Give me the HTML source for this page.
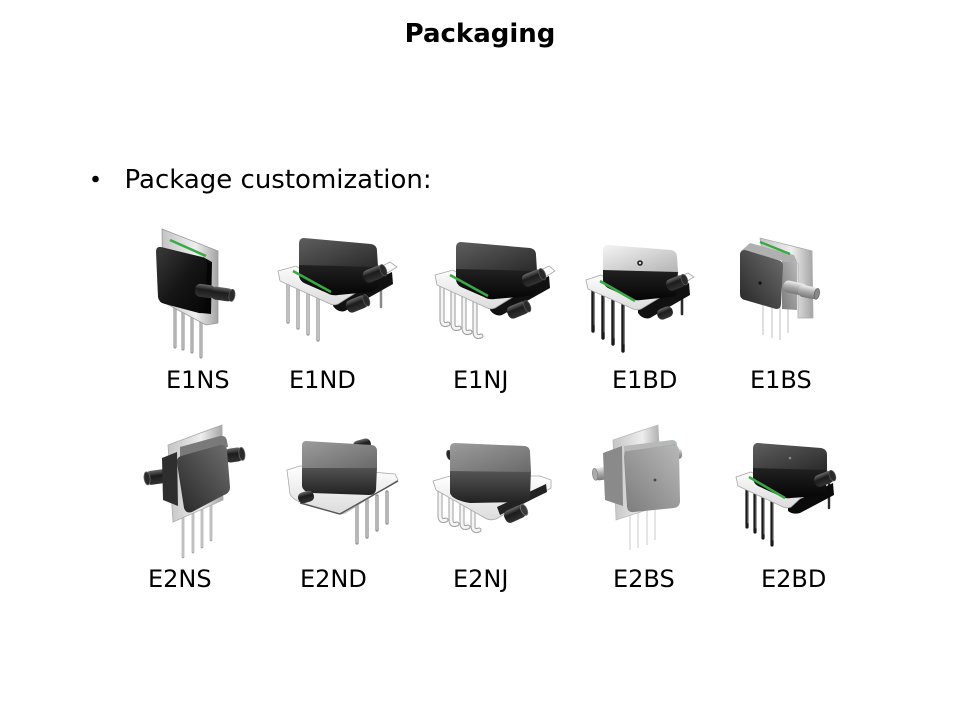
<!DOCTYPE html>
<html><head><meta charset="utf-8"><style>
html,body{margin:0;padding:0;background:#fff;}
svg{display:block;}
text{font-family:"DejaVu Sans","Liberation Sans",sans-serif;fill:#000;}
</style></head><body>
<svg width="960" height="720" viewBox="0 0 960 720" xmlns="http://www.w3.org/2000/svg">
<defs>
<linearGradient id="topDark" x1="0" y1="0" x2="1" y2="1"><stop offset="0" stop-color="#5e5e5e"/><stop offset="1" stop-color="#2a2a2a"/></linearGradient>
<linearGradient id="topLight" x1="0" y1="0" x2="1" y2="1"><stop offset="0" stop-color="#f4f4f4"/><stop offset="1" stop-color="#b4b4b4"/></linearGradient>
<linearGradient id="topGray" x1="0" y1="0" x2="1" y2="1"><stop offset="0" stop-color="#9c9c9c"/><stop offset="1" stop-color="#6a6a6a"/></linearGradient>
<linearGradient id="frontBlack" x1="0" y1="0" x2="0" y2="1"><stop offset="0" stop-color="#222"/><stop offset="1" stop-color="#050505"/></linearGradient>
<linearGradient id="frontGray" x1="0" y1="0" x2="0" y2="1"><stop offset="0" stop-color="#555"/><stop offset="1" stop-color="#222"/></linearGradient>
<linearGradient id="sideBlack" x1="0" y1="0" x2="1" y2="1"><stop offset="0" stop-color="#3a3a3a"/><stop offset="0.5" stop-color="#161616"/><stop offset="1" stop-color="#050505"/></linearGradient>
<linearGradient id="sideGray" x1="1" y1="0" x2="0" y2="1"><stop offset="0" stop-color="#6e6e6e"/><stop offset="1" stop-color="#262626"/></linearGradient>
<linearGradient id="sideLight" x1="1" y1="0" x2="0" y2="1"><stop offset="0" stop-color="#b8b8b8"/><stop offset="1" stop-color="#7c7c7c"/></linearGradient>
<linearGradient id="tube" x1="0" y1="0" x2="0" y2="1"><stop offset="0" stop-color="#6a6a6a"/><stop offset="0.4" stop-color="#1c1c1c"/><stop offset="1" stop-color="#333"/></linearGradient>
<linearGradient id="tubeLight" x1="0" y1="0" x2="0" y2="1"><stop offset="0" stop-color="#f0f0f0"/><stop offset="0.5" stop-color="#a8a8a8"/><stop offset="1" stop-color="#777"/></linearGradient>
<linearGradient id="plate" x1="0" y1="0" x2="1" y2="0"><stop offset="0" stop-color="#c4c4c4"/><stop offset="0.6" stop-color="#eeeeee"/><stop offset="1" stop-color="#a4a4a4"/></linearGradient>
<linearGradient id="board" x1="0" y1="0" x2="0" y2="1"><stop offset="0" stop-color="#ffffff"/><stop offset="1" stop-color="#dcdcdc"/></linearGradient>
</defs>

<text x="480" y="42" text-anchor="middle" font-weight="bold" font-size="26">Packaging</text>
<circle cx="95.5" cy="179" r="3.3" fill="#000"/>
<text x="124.5" y="188" font-size="26">Package customization:</text>

<!-- E1NS -->
<g>
<g stroke-linecap="round">
<line x1="175" y1="300" x2="175" y2="347" stroke="#8a8a8a" stroke-width="3"/>
<line x1="183" y1="302" x2="183" y2="349" stroke="#8a8a8a" stroke-width="3"/>
<line x1="192" y1="304" x2="192" y2="352" stroke="#8a8a8a" stroke-width="3"/>
<line x1="201" y1="306" x2="201" y2="357" stroke="#8a8a8a" stroke-width="3"/>
<line x1="175" y1="300" x2="175" y2="347" stroke="#dedede" stroke-width="1"/>
<line x1="183" y1="302" x2="183" y2="349" stroke="#dedede" stroke-width="1"/>
<line x1="192" y1="304" x2="192" y2="352" stroke="#dedede" stroke-width="1"/>
<line x1="201" y1="306" x2="201" y2="357" stroke="#dedede" stroke-width="1"/>
</g>
<polygon points="162,229 218,251 218,323 206,325 163,302" fill="url(#plate)" stroke="#999" stroke-width="0.8"/>
<line x1="170" y1="240" x2="206" y2="256" stroke="#3aa845" stroke-width="2.5"/>
<path d="M203,257 L212,262 L211,314 L201,313 Z" fill="#050505"/>
<path d="M161,247 Q156,246 156,252 L158,297 Q159,303 165,304 L199,313 Q205,314 205,308 L207,264 Q207,258 202,257 Z" fill="url(#sideBlack)"/>
<g transform="translate(205,291) rotate(8)"><rect x="-10" y="-6.5" width="20" height="13" rx="5" fill="url(#tube)"/></g>
<g transform="translate(222,294) rotate(8)"><rect x="-11" y="-6.5" width="22" height="13" rx="5" fill="url(#tube)"/><ellipse cx="10" cy="0" rx="3" ry="6" fill="#2a2a2a" stroke="#555" stroke-width="0.8"/></g>
</g>

<!-- E1ND -->
<g>
<g stroke-linecap="round">
<line x1="288" y1="280" x2="288" y2="322" stroke="#8a8a8a" stroke-width="3.2"/>
<line x1="298" y1="285" x2="298" y2="328" stroke="#8a8a8a" stroke-width="3.2"/>
<line x1="308" y1="290" x2="308" y2="334" stroke="#8a8a8a" stroke-width="3.2"/>
<line x1="318" y1="295" x2="318" y2="340" stroke="#8a8a8a" stroke-width="3.2"/>
<line x1="381" y1="272" x2="381" y2="307" stroke="#8a8a8a" stroke-width="2.5"/>
<line x1="288" y1="280" x2="288" y2="322" stroke="#e4e4e4" stroke-width="1.2"/>
<line x1="298" y1="285" x2="298" y2="328" stroke="#e4e4e4" stroke-width="1.2"/>
<line x1="308" y1="290" x2="308" y2="334" stroke="#e4e4e4" stroke-width="1.2"/>
<line x1="318" y1="295" x2="318" y2="340" stroke="#e4e4e4" stroke-width="1.2"/>
</g>
<path d="M333,300 L392,272 L393,284 L345,311 Q338,313 333,306 Z" fill="#111"/>
<path d="M278,271 L296,266 L334,291 L390,262 L397,267 L338,304 Q333,306 328,303 L280,281 Z" fill="url(#board)" stroke="#a8a8a8" stroke-width="0.8"/>
<path d="M299,264 L378,266 L377,287 Q376,292 370,292 L338,295 Q332,296 327,293 L304,283 Q299,280 299,275 Z" fill="url(#frontBlack)"/>
<path d="M304,238 L371,244 Q377,245 377,251 L378,267 L299,265 L299,244 Q299,238 304,238 Z" fill="url(#topDark)"/>
<line x1="293" y1="271" x2="331" y2="292" stroke="#3aa845" stroke-width="2.5"/>
<g transform="translate(374,274) rotate(-22)"><rect x="-11" y="-6.5" width="22" height="13" rx="5" fill="url(#tube)"/><ellipse cx="10" cy="0" rx="3" ry="6" fill="#2a2a2a" stroke="#555" stroke-width="0.8"/></g>
<g transform="translate(357,304) rotate(-22)"><rect x="-11" y="-6.5" width="22" height="13" rx="5" fill="url(#tube)"/><ellipse cx="10" cy="0" rx="3" ry="6" fill="#2a2a2a" stroke="#555" stroke-width="0.8"/></g>
</g>

<!-- E1NJ -->
<g transform="translate(157,4)">
<g fill="none" stroke-linecap="round">
<path d="M285,281 L285,316 Q285,322 291,320" stroke="#9a9a9a" stroke-width="5"/>
<path d="M296,286 L296,320 Q296,326 302,324" stroke="#9a9a9a" stroke-width="5"/>
<path d="M307,291 L307,324 Q307,330 313,328" stroke="#9a9a9a" stroke-width="5"/>
<path d="M318,296 L318,328 Q318,334 324,332" stroke="#9a9a9a" stroke-width="5"/>
<path d="M285,281 L285,316 Q285,322 291,320" stroke="#f4f4f4" stroke-width="3"/>
<path d="M296,286 L296,320 Q296,326 302,324" stroke="#f4f4f4" stroke-width="3"/>
<path d="M307,291 L307,324 Q307,330 313,328" stroke="#f4f4f4" stroke-width="3"/>
<path d="M318,296 L318,328 Q318,334 324,332" stroke="#f4f4f4" stroke-width="3"/>
</g>
<path d="M333,300 L392,272 L393,284 L345,311 Q338,313 333,306 Z" fill="#111"/>
<path d="M278,271 L296,266 L334,291 L392,262 L398,267 L338,304 Q333,306 328,303 L280,281 Z" fill="url(#board)" stroke="#a8a8a8" stroke-width="0.8"/>
<path d="M299,264 L380,266 L379,287 Q378,292 372,292 L338,295 Q332,296 327,293 L304,283 Q299,280 299,275 Z" fill="url(#frontBlack)"/>
<path d="M304,238 L373,244 Q379,245 379,251 L380,267 L299,265 L299,244 Q299,238 304,238 Z" fill="url(#topDark)"/>
<line x1="293" y1="271" x2="331" y2="292" stroke="#3aa845" stroke-width="2.5"/>
<g transform="translate(376,274) rotate(-22)"><rect x="-11" y="-6.5" width="22" height="13" rx="5" fill="url(#tube)"/><ellipse cx="10" cy="0" rx="3" ry="6" fill="#2a2a2a" stroke="#555" stroke-width="0.8"/></g>
<g transform="translate(361,306) rotate(-22)"><rect x="-11" y="-6.5" width="22" height="13" rx="5" fill="url(#tube)"/><ellipse cx="10" cy="0" rx="3" ry="6" fill="#2a2a2a" stroke="#555" stroke-width="0.8"/></g>
</g>

<!-- E1BD -->
<g transform="translate(305,7)">
<g stroke-linecap="round">
<line x1="288" y1="282" x2="288" y2="324" stroke="#1a1a1a" stroke-width="3.4"/>
<line x1="298" y1="287" x2="298" y2="331" stroke="#1a1a1a" stroke-width="3.4"/>
<line x1="308" y1="292" x2="308" y2="337" stroke="#1a1a1a" stroke-width="3.4"/>
<line x1="318" y1="297" x2="318" y2="344" stroke="#1a1a1a" stroke-width="3.4"/>
<line x1="377" y1="276" x2="377" y2="307" stroke="#2a2a2a" stroke-width="2.6"/>
<line x1="289" y1="284" x2="289" y2="318" stroke="#777" stroke-width="0.8"/>
<line x1="299" y1="289" x2="299" y2="325" stroke="#777" stroke-width="0.8"/>
<line x1="309" y1="294" x2="309" y2="331" stroke="#777" stroke-width="0.8"/>
<line x1="319" y1="299" x2="319" y2="337" stroke="#777" stroke-width="0.8"/>
</g>
<path d="M333,300 L384,276 L385,288 L345,311 Q338,313 333,306 Z" fill="#111"/>
<path d="M281,273 L296,268 L332,290 L383,266 L389,270 L336,302 Q331,304 326,301 L283,282 Z" fill="url(#board)" stroke="#a8a8a8" stroke-width="0.8"/>
<path d="M298,262 L373,264 L372,285 Q371,290 365,290 L336,293 Q330,294 325,291 L303,281 Q298,278 298,273 Z" fill="url(#frontBlack)"/>
<path d="M303,238 L366,243 Q372,244 372,250 L373,265 L298,263 L298,244 Q298,238 303,238 Z" fill="url(#topLight)"/>
<circle cx="335" cy="256" r="2.8" fill="#222"/><circle cx="335" cy="256" r="1.2" fill="#ddd"/>
<line x1="295" y1="274" x2="330" y2="294" stroke="#3aa845" stroke-width="2.5"/>
<g transform="translate(371,276) rotate(-22)"><rect x="-10" y="-6" width="20" height="12" rx="5" fill="url(#tube)"/><ellipse cx="9" cy="0" rx="3" ry="5.5" fill="#2a2a2a" stroke="#555" stroke-width="0.8"/></g>
<g transform="translate(360,306) rotate(-22)"><rect x="-8" y="-5.5" width="16" height="11" rx="5" fill="url(#tube)"/></g>
</g>

<!-- E1BS -->
<g>
<g stroke="#cfcfcf" stroke-width="1.4">
<line x1="763" y1="300" x2="763" y2="335"/>
<line x1="772" y1="303" x2="772" y2="338"/>
<line x1="780" y1="305" x2="780" y2="340"/>
<line x1="788" y1="305" x2="788" y2="333"/>
</g>
<polygon points="760,238 812,251 813,318 798,318 798,264 762,251" fill="url(#plate)" stroke="#aaa" stroke-width="0.8"/>
<path d="M750,243 L794,255 L797,262 L783,261 L741,251 Z" fill="#b0b0b0"/>
<line x1="760" y1="242" x2="790" y2="254" stroke="#3aa845" stroke-width="2.3"/>
<path d="M782,261 L797,262 L797,310 L782,309 Z" fill="url(#sideLight)"/>
<path d="M745,250 L778,260 Q783,261 783,266 L781,304 Q781,309 776,309 L745,300 Q740,299 740,294 L740,255 Q740,250 745,250 Z" fill="url(#sideGray)"/>
<circle cx="760" cy="283" r="1.6" fill="#111"/>
<g transform="translate(795,288) rotate(12)"><rect x="-12" y="-6" width="24" height="12" rx="5" fill="url(#tubeLight)"/></g>
<g transform="translate(808,292) rotate(12)"><rect x="-10" y="-6" width="20" height="12" rx="5" fill="url(#tubeLight)"/><ellipse cx="9" cy="0" rx="2.6" ry="5.5" fill="#888" stroke="#555" stroke-width="0.6"/></g>
</g>

<!-- E2NS -->
<g>
<g stroke-linecap="round">
<line x1="183" y1="505" x2="183" y2="557" stroke="#9a9a9a" stroke-width="2.6"/>
<line x1="193" y1="507" x2="193" y2="552" stroke="#9a9a9a" stroke-width="2.6"/>
<line x1="202" y1="505" x2="202" y2="547" stroke="#9a9a9a" stroke-width="2.6"/>
<line x1="211" y1="502" x2="211" y2="540" stroke="#9a9a9a" stroke-width="2.6"/>
<line x1="183" y1="505" x2="183" y2="557" stroke="#e6e6e6" stroke-width="1"/>
<line x1="193" y1="507" x2="193" y2="552" stroke="#e6e6e6" stroke-width="1"/>
<line x1="202" y1="505" x2="202" y2="547" stroke="#e6e6e6" stroke-width="1"/>
<line x1="211" y1="502" x2="211" y2="540" stroke="#e6e6e6" stroke-width="1"/>
</g>
<g transform="translate(157,477) rotate(-8)"><rect x="-11" y="-7" width="22" height="14" rx="5" fill="url(#tube)"/><ellipse cx="-10" cy="0" rx="3" ry="6.5" fill="#2a2a2a" stroke="#666" stroke-width="0.8"/></g>
<polygon points="168,445 222,425 223,500 173,522" fill="url(#plate)" stroke="#aaa" stroke-width="0.8"/>
<path d="M162,458 L177,452 L178,506 L163,500 Z" fill="#2e2e2e"/>
<g transform="translate(234,455) rotate(-8)"><rect x="-9" y="-7" width="18" height="14" rx="5" fill="url(#tube)"/><ellipse cx="8" cy="0" rx="3" ry="6.5" fill="#2a2a2a" stroke="#666" stroke-width="0.8"/></g>
<path d="M180,447 L220,436 Q226,435 227,441 L228,447 L180,458 Z" fill="#7a7a7a"/>
<path d="M181,456 L220,445 Q226,444 227,450 L230,487 Q230,493 224,495 L192,512 Q186,514 184,508 L177,463 Q176,458 181,456 Z" fill="url(#sideGray)"/>
</g>

<!-- E2ND -->
<g>
<g stroke-linecap="round">
<line x1="357" y1="503" x2="357" y2="543" stroke="#888" stroke-width="3.2"/>
<line x1="367" y1="500" x2="367" y2="537" stroke="#888" stroke-width="3.2"/>
<line x1="377" y1="496" x2="377" y2="530" stroke="#888" stroke-width="3.2"/>
<line x1="387" y1="492" x2="387" y2="523" stroke="#888" stroke-width="3.2"/>
<line x1="357" y1="503" x2="357" y2="543" stroke="#dcdcdc" stroke-width="1.1"/>
<line x1="367" y1="500" x2="367" y2="537" stroke="#dcdcdc" stroke-width="1.1"/>
<line x1="377" y1="496" x2="377" y2="530" stroke="#dcdcdc" stroke-width="1.1"/>
<line x1="387" y1="492" x2="387" y2="523" stroke="#dcdcdc" stroke-width="1.1"/>
</g>
<g transform="translate(362,445) rotate(-15)"><rect x="-9" y="-5.5" width="18" height="11" rx="5" fill="url(#tube)"/></g>
<path d="M287,470 L300,466 L395,474 L398,480 L345,513 Q340,515 335,513 L300,502 Q292,499 290,494 Z" fill="url(#board)" stroke="#a8a8a8" stroke-width="0.8"/>
<path d="M300,503 L340,514 L398,481" fill="none" stroke="#555" stroke-width="1.4"/>
<path d="M302,466 L377,467 L376,490 Q375,495 369,495 L312,493 Q303,492 302,486 Z" fill="url(#frontGray)"/>
<path d="M306,441 L372,445 Q377,446 377,451 L377,468 L302,468 L302,446 Q302,441 306,441 Z" fill="url(#topGray)"/>
<g transform="translate(306,497) rotate(-15)"><rect x="-8" y="-5.5" width="16" height="11" rx="5" fill="url(#tube)"/></g>
</g>

<!-- E2NJ -->
<g>
<g transform="translate(457,453) rotate(-15)"><rect x="-9" y="-5.5" width="18" height="11" rx="5" fill="url(#tube)"/><ellipse cx="-8" cy="0" rx="2.6" ry="5" fill="#2a2a2a" stroke="#666" stroke-width="0.6"/></g>
<g fill="none" stroke-linecap="round">
<path d="M440,486 L440,516 Q440,522 446,520" stroke="#a0a0a0" stroke-width="5"/>
<path d="M451,491 L451,520 Q451,526 457,524" stroke="#a0a0a0" stroke-width="5"/>
<path d="M462,496 L462,523 Q462,529 468,527" stroke="#a0a0a0" stroke-width="5"/>
<path d="M473,501 L473,526 Q473,532 479,530" stroke="#a0a0a0" stroke-width="5"/>
<path d="M440,486 L440,516 Q440,522 446,520" stroke="#f4f4f4" stroke-width="3"/>
<path d="M451,491 L451,520 Q451,526 457,524" stroke="#f4f4f4" stroke-width="3"/>
<path d="M462,496 L462,523 Q462,529 468,527" stroke="#f4f4f4" stroke-width="3"/>
<path d="M473,501 L473,526 Q473,532 479,530" stroke="#f4f4f4" stroke-width="3"/>
</g>
<path d="M433,481 L450,476 L540,476 L551,480 L551,488 L496,519 Q490,521 485,518 L436,490 Z" fill="url(#board)" stroke="#a8a8a8" stroke-width="0.8"/>
<path d="M497,507 L546,484 L547,492 L500,515 Z" fill="#222"/>
<path d="M450,470 L531,471 L530,497 Q529,502 523,502 L470,503 Q452,500 450,493 Z" fill="url(#frontGray)"/>
<path d="M455,443 L525,446 Q530,447 530,452 L531,472 L450,471 L450,448 Q450,443 455,443 Z" fill="url(#topGray)"/>
<g transform="translate(515,514) rotate(-25)"><rect x="-11" y="-6.5" width="22" height="13" rx="5" fill="url(#tube)"/><ellipse cx="10" cy="0" rx="3" ry="6" fill="#3a3a3a" stroke="#777" stroke-width="0.8"/></g>
</g>

<!-- E2BS -->
<g>
<g stroke="#dadada" stroke-width="1.4">
<line x1="630" y1="505" x2="630" y2="550"/>
<line x1="638" y1="507" x2="638" y2="548"/>
<line x1="647" y1="507" x2="647" y2="545"/>
<line x1="655" y1="505" x2="655" y2="540"/>
</g>
<g transform="translate(605,473) rotate(-8)"><rect x="-11" y="-6.5" width="22" height="13" rx="5" fill="url(#tubeLight)"/><ellipse cx="-10" cy="0" rx="2.6" ry="6" fill="#aaa" stroke="#777" stroke-width="0.6"/></g>
<polygon points="613,440 658,425 662,505 616,520" fill="url(#plate)" stroke="#bbb" stroke-width="0.8"/>
<path d="M603,453 L622,446 L623,506 L605,500 Z" fill="#8a8a8a"/>
<g transform="translate(675,454) rotate(-8)"><rect x="-7" y="-5.5" width="14" height="11" rx="4" fill="url(#tubeLight)"/></g>
<path d="M624,446 L672,440 Q677,440 677,445 L678,449 L624,454 Z" fill="#b8b8b8"/>
<line x1="625" y1="452" x2="675" y2="445" stroke="#6aa870" stroke-width="1"/>
<path d="M628,451 L673,445 Q679,445 679,451 L680,501 Q680,507 674,508 L634,512 Q628,513 627,507 L624,457 Q624,451 628,451 Z" fill="url(#sideLight)"/>
<circle cx="655" cy="480" r="1.4" fill="#444"/>
</g>

<!-- E2BD -->
<g transform="translate(455,205)">
<g stroke-linecap="round">
<line x1="292" y1="280" x2="292" y2="322" stroke="#1a1a1a" stroke-width="3.2"/>
<line x1="300" y1="285" x2="300" y2="327" stroke="#1a1a1a" stroke-width="3.2"/>
<line x1="308" y1="290" x2="308" y2="333" stroke="#1a1a1a" stroke-width="3.2"/>
<line x1="317" y1="295" x2="317" y2="340" stroke="#1a1a1a" stroke-width="3.2"/>
<line x1="374" y1="274" x2="374" y2="303" stroke="#2a2a2a" stroke-width="2.4"/>
<line x1="293" y1="282" x2="293" y2="318" stroke="#888" stroke-width="0.8"/>
<line x1="301" y1="287" x2="301" y2="323" stroke="#888" stroke-width="0.8"/>
<line x1="309" y1="292" x2="309" y2="329" stroke="#888" stroke-width="0.8"/>
<line x1="318" y1="297" x2="318" y2="335" stroke="#888" stroke-width="0.8"/>
</g>
<path d="M333,300 L378,278 L379,290 L345,308 Q338,310 333,306 Z" fill="#0a0a0a"/>
<path d="M281,272 L296,267 L333,290 L368,263 L374,267 L336,302 Q331,304 326,301 L283,281 Z" fill="url(#board)" stroke="#a8a8a8" stroke-width="0.8"/>
<path d="M298,262 L372,264 L371,286 Q370,291 364,291 L336,293 Q330,294 325,291 L303,281 Q298,278 298,273 Z" fill="url(#frontBlack)"/>
<path d="M303,238 L366,243 Q372,244 372,250 L372,265 L298,263 L298,244 Q298,238 303,238 Z" fill="url(#topDark)"/>
<circle cx="335" cy="253" r="1.3" fill="#888"/>
<line x1="294" y1="272" x2="330" y2="293" stroke="#3aa845" stroke-width="2.5"/>
<g transform="translate(369,274) rotate(-22)"><rect x="-10" y="-6" width="20" height="12" rx="5" fill="url(#tube)"/><ellipse cx="9" cy="0" rx="3" ry="5.5" fill="#2a2a2a" stroke="#555" stroke-width="0.8"/></g>
</g>

<g font-size="24">
<text x="166" y="388">E1NS</text>
<text x="289" y="388">E1ND</text>
<text x="453" y="388">E1NJ</text>
<text x="612" y="388">E1BD</text>
<text x="750" y="388">E1BS</text>
<text x="148" y="587">E2NS</text>
<text x="300" y="587">E2ND</text>
<text x="453" y="587">E2NJ</text>
<text x="613" y="587">E2BS</text>
<text x="761" y="587">E2BD</text>
</g>
</svg>
</body></html>
